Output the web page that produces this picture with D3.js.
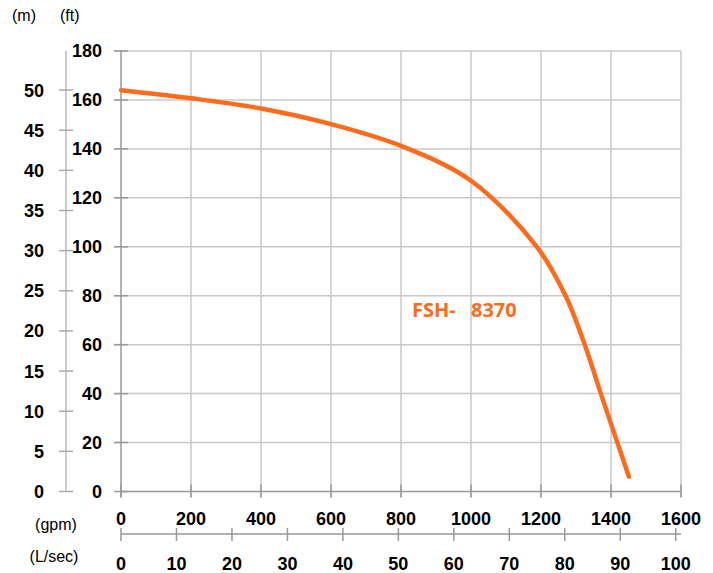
<!DOCTYPE html>
<html>
<head>
<meta charset="utf-8">
<script src="https://cdn.jsdelivr.net/npm/d3@7"></script>
<style>
	body { margin: 0; background: #fff; }
	text { font-family: 'Liberation Sans', Arial, sans-serif; }
</style>
</head>
<body>
<div id="vis"></div>
<script>
// DATA
let flowGpm = [0, 200, 400, 600, 800, 1000, 1188, 1270, 1325, 1371, 1451];
let headFt = [164, 160.7, 156.5, 150.1, 141.2, 127, 100, 80, 60, 40, 6.1];
let gpmTicks = [0, 200, 400, 600, 800, 1000, 1200, 1400, 1600];
let lsecTicks = [0, 10, 20, 30, 40, 50, 60, 70, 80, 90, 100];
let ftTicks = [0, 20, 40, 60, 80, 100, 120, 140, 160, 180];
let mTicks = [0, 5, 10, 15, 20, 25, 30, 35, 40, 45, 50];
let modelName = ['FSH-', '8370'];

let width = 713,
	height = 573,
	orange = '#ff6b1a';

// SCALES
let x = d3.scaleLinear().domain([0, 1600]).range([121, 681]),
	xL = d3.scaleLinear().domain([0, 1600 / 15.85]).range([121, 681]),
	y = d3.scaleLinear().domain([0, 180]).range([491.5, 51]),
	yM = d3.scaleLinear().domain([0, 180 / 3.2808]).range([491.5, 51]);

let svg = d3.select('#vis')
	.append('svg')
	.attr('width', width)
	.attr('height', height);

// GRID
svg.append('g')
	.selectAll('line')
	.data(ftTicks.slice(1))
	.join('line')
	.attr('x1', x(0) - 7)
	.attr('x2', x(1600))
	.attr('y1', d => y(d))
	.attr('y2', d => y(d))
	.attr('stroke', '#c8c8c8')
	.attr('stroke-width', 1.5);

svg.append('g')
	.selectAll('line')
	.data(gpmTicks)
	.join('line')
	.attr('x1', d => x(d))
	.attr('x2', d => x(d))
	.attr('y1', y(180))
	.attr('y2', y(0) + 6)
	.attr('stroke', d => d === 0 ? '#999' : '#c8c8c8')
	.attr('stroke-width', 1.5);

// ft tick marks (left side)
svg.append('g')
	.selectAll('line')
	.data(ftTicks)
	.join('line')
	.attr('x1', x(0) - 7)
	.attr('x2', x(0) + 7)
	.attr('y1', d => y(d))
	.attr('y2', d => y(d))
	.attr('stroke', '#999')
	.attr('stroke-width', 1.5);

// bottom ticks
svg.append('g')
	.selectAll('line')
	.data(gpmTicks)
	.join('line')
	.attr('x1', d => x(d))
	.attr('x2', d => x(d))
	.attr('y1', y(0) - 7)
	.attr('y2', y(0) + 6)
	.attr('stroke', '#999')
	.attr('stroke-width', 1.5);

// BASELINE
svg.append('line')
	.attr('x1', x(0))
	.attr('x2', x(1600))
	.attr('y1', y(0))
	.attr('y2', y(0))
	.attr('stroke', '#999')
	.attr('stroke-width', 1.5);

// FT LABELS
svg.append('g')
	.selectAll('text')
	.data(ftTicks)
	.join('text')
	.attr('x', 102)
	.attr('y', d => y(d))
	.attr('dy', '0.36em')
	.attr('text-anchor', 'end')
	.attr('font-size', 18)
	.attr('font-weight', 'bold')
	.text(d => d);

// METER AXIS
svg.append('line')
	.attr('x1', 66)
	.attr('x2', 66)
	.attr('y1', y(180))
	.attr('y2', y(0))
	.attr('stroke', '#bbb')
	.attr('stroke-width', 1.5);

svg.append('g')
	.selectAll('line')
	.data(mTicks)
	.join('line')
	.attr('x1', 59)
	.attr('x2', 73)
	.attr('y1', d => yM(d))
	.attr('y2', d => yM(d))
	.attr('stroke', '#aaa')
	.attr('stroke-width', 1.5);

svg.append('g')
	.selectAll('text')
	.data(mTicks)
	.join('text')
	.attr('x', 44)
	.attr('y', d => yM(d))
	.attr('dy', '0.36em')
	.attr('text-anchor', 'end')
	.attr('font-size', 18)
	.attr('font-weight', 'bold')
	.text(d => d);

// UNIT LABELS
svg.append('text').attr('x', 12).attr('y', 21).attr('font-size', 16).text('(m)');
svg.append('text').attr('x', 60).attr('y', 21).attr('font-size', 16).text('(ft)');
svg.append('text').attr('x', 56).attr('y', 530).attr('font-size', 16).attr('text-anchor', 'middle').text('(gpm)');
svg.append('text').attr('x', 54).attr('y', 562).attr('font-size', 16).attr('text-anchor', 'middle').text('(L/sec)');

// GPM LABELS
svg.append('g')
	.selectAll('text')
	.data(gpmTicks)
	.join('text')
	.attr('x', d => x(d))
	.attr('y', 519)
	.attr('dy', '0.36em')
	.attr('text-anchor', 'middle')
	.attr('font-size', 18)
	.attr('font-weight', 'bold')
	.text(d => d);

// L/SEC AXIS
svg.append('line')
	.attr('x1', xL(0))
	.attr('x2', x(1600))
	.attr('y1', 534)
	.attr('y2', 534)
	.attr('stroke', '#999')
	.attr('stroke-width', 1.5);

svg.append('g')
	.selectAll('line')
	.data(lsecTicks)
	.join('line')
	.attr('x1', d => xL(d))
	.attr('x2', d => xL(d))
	.attr('y1', 528)
	.attr('y2', 541)
	.attr('stroke', '#999')
	.attr('stroke-width', 1.5);

svg.append('g')
	.selectAll('text')
	.data(lsecTicks)
	.join('text')
	.attr('x', d => xL(d))
	.attr('y', 564)
	.attr('dy', '0.36em')
	.attr('text-anchor', 'middle')
	.attr('font-size', 18)
	.attr('font-weight', 'bold')
	.text(d => d);

// CURVE
let line = d3.line()
	.x((d, i) => x(flowGpm[i]))
	.y(d => y(d))
	.curve(d3.curveCatmullRom.alpha(0.5));

svg.append('path')
	.datum(headFt)
	.attr('d', line)
	.attr('fill', 'none')
	.attr('stroke', orange)
	.attr('stroke-width', 4.5)
	.attr('stroke-linecap', 'round');

// MODEL LABEL
svg.append('g')
	.selectAll('text')
	.data(modelName)
	.join('text')
	.attr('x', (d, i) => i === 0 ? 412 : 471)
	.attr('y', 317)
	.attr('fill', orange)
	.attr('font-size', 20)
	.attr('font-weight', 'bold')
	.style('font-family', "'Open Sans', sans-serif")
	.text(d => d);
</script>
</body>
</html>
